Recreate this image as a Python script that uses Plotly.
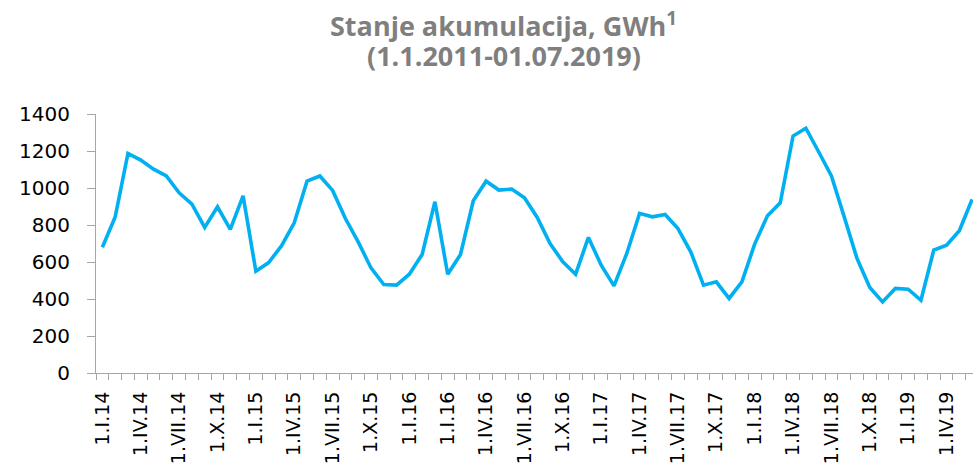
import plotly.graph_objects as go

# Monthly reservoir storage, GWh (categories in chart order)
values = [680, 844, 1187, 1151, 1102, 1065, 974, 913, 787, 898, 776, 958,
          550, 597, 687, 812, 1037, 1065, 987, 835, 709, 568, 478, 475,
          534, 641, 926, 534, 641, 931, 1037, 989, 994, 947, 841, 700,
          601, 534, 733, 583, 471, 646, 863, 844, 857, 781, 655, 475,
          493, 403, 493, 697, 850, 920, 1281, 1323, 1196, 1065, 844, 619,
          462, 384, 457, 453, 393, 664, 691, 769, 938]

tick_labels = ["1.I.14", "1.IV.14", "1.VII.14", "1.X.14", "1.I.15", "1.IV.15",
               "1.VII.15", "1.X.15", "1.I.16", "1.I.16", "1.IV.16", "1.VII.16",
               "1.X.16", "1.I.17", "1.IV.17", "1.VII.17", "1.X.17", "1.I.18",
               "1.IV.18", "1.VII.18", "1.X.18", "1.I.19", "1.IV.19"]
label_every = 3

y_ticks = [0, 200, 400, 600, 800, 1000, 1200, 1400]

title_line1 = "Stanje akumulacija, GWh<sup>1</sup>"
title_line2 = "(1.1.2011-01.07.2019)"

x = list(range(len(values)))
tick_pos = [i * label_every for i in range(len(tick_labels))]
boundaries = [i - 0.5 for i in range(len(values) + 1)]

AXIS_GRAY = "#a6a6a6"
FONT = "DejaVu Sans"
TITLE_FONT = dict(family="Open Sans", size=27, color="#7f7f7f", weight="bold")

fig = go.Figure()
fig.add_trace(go.Scatter(
    x=x, y=values, mode="lines",
    line=dict(color="#00b0f0", width=3.6),
    hoverinfo="y", showlegend=False,
))

fig.update_layout(
    width=973, height=469,
    margin=dict(l=96, r=0, t=114, b=96, autoexpand=False),
    paper_bgcolor="white", plot_bgcolor="white",
    annotations=[
        dict(text=title_line1, xref="paper", yref="paper", x=0.465, y=1,
             yshift=90, xanchor="center", yanchor="middle",
             showarrow=False, font=TITLE_FONT),
        dict(text=title_line2, xref="paper", yref="paper", x=0.465, y=1,
             yshift=59, xanchor="center", yanchor="middle",
             showarrow=False, font=TITLE_FONT),
    ],
)

fig.update_xaxes(
    range=[-0.5, 68.07],
    tickmode="array", tickvals=tick_pos, ticktext=tick_labels,
    tickangle=-90, ticks="", ticklabelstandoff=10,
    tickfont=dict(family=FONT, size=19, color="black"),
    showline=True, linecolor=AXIS_GRAY, linewidth=1,
    showgrid=False, zeroline=False, automargin=False,
    minor=dict(tickmode="array", tickvals=boundaries, ticks="outside",
               ticklen=6, tickcolor=AXIS_GRAY, tickwidth=1, showgrid=False),
)
fig.update_yaxes(
    range=[0, 1400],
    tickmode="array", tickvals=y_ticks,
    ticks="outside", ticklen=8, tickcolor=AXIS_GRAY, tickwidth=1,
    ticklabelstandoff=13, automargin=False,
    tickfont=dict(family=FONT, size=20, color="black"),
    showline=True, linecolor=AXIS_GRAY, linewidth=1,
    showgrid=False, zeroline=False,
)

fig.write_html(
    "out.html",
    config={"displayModeBar": False},
    post_script="document.body.style.margin='0';document.body.style.overflow='hidden';",
)
